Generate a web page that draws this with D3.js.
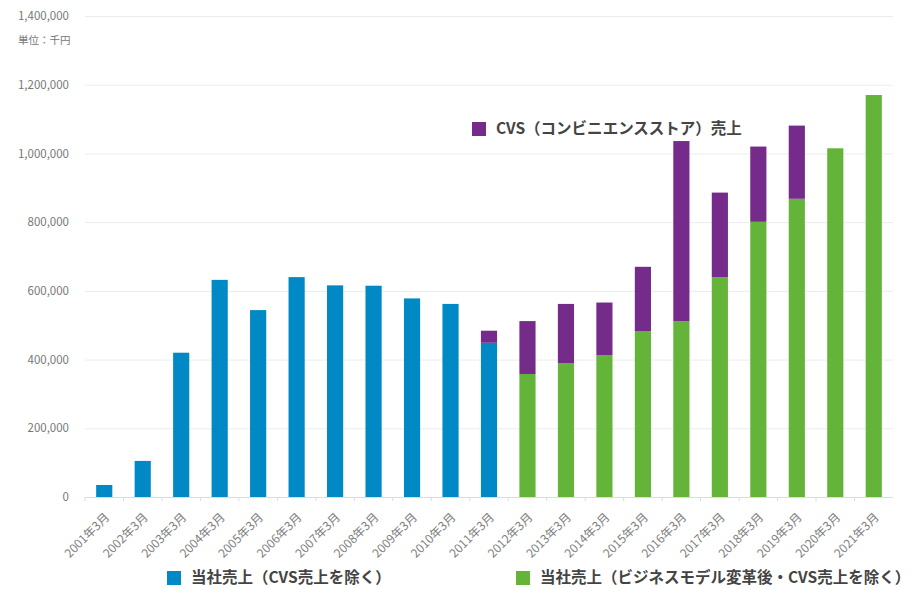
<!DOCTYPE html>
<html>
<head>
<meta charset="utf-8">
<script src="https://cdn.jsdelivr.net/npm/d3@7/dist/d3.min.js"></script>
<style>
  body { margin: 0; background: #fff; }
  text { font-family: "Noto Sans CJK JP", "Noto Sans", sans-serif; }
</style>
</head>
<body>
<div id="chart"></div>
<script>
// data (千円)
var years = ["2001年3月","2002年3月","2003年3月","2004年3月","2005年3月","2006年3月","2007年3月",
  "2008年3月","2009年3月","2010年3月","2011年3月","2012年3月","2013年3月","2014年3月",
  "2015年3月","2016年3月","2017年3月","2018年3月","2019年3月","2020年3月","2021年3月"];
var salesOld = [35000,105000,420000,632000,544000,640000,616000,615000,578000,562000,449000,0,0,0,0,0,0,0,0,0,0];
var salesNew = [0,0,0,0,0,0,0,0,0,0,0,358000,389000,413000,483000,512000,640000,801000,868000,1015000,1170000];
var salesCvs = [0,0,0,0,0,0,0,0,0,0,35000,154000,173000,153000,187000,524000,246000,219000,213000,0,0];
var yTicks = [0,200000,400000,600000,800000,1000000,1200000,1400000];

var keys = ["old","new","cvs"];
var colours = {old: "#0089c4", "new": "#64b43a", cvs: "#742b8a"};
var legendText = {
  old: "当社売上（CVS売上を除く）",
  "new": "当社売上（ビジネスモデル変革後・CVS売上を除く）",
  cvs: "CVS（コンビニエンスストア）売上"
};

var svgWidth = 910, svgHeight = 589;
var svg = d3.select("#chart").append("svg").attr("width", svgWidth).attr("height", svgHeight);

var x = d3.scaleBand().domain(years).range([85, 893]).paddingInner(0.58).paddingOuter(0.29);
var y = d3.scaleLinear().domain([0, 1400000]).range([497, 16]);

// grid
svg.append("g").selectAll("line").data(yTicks).join("line")
  .attr("x1", 85).attr("x2", 893)
  .attr("y1", function(d){ return y(d) + 0.5; }).attr("y2", function(d){ return y(d) + 0.5; })
  .attr("stroke", function(d){ return d === 0 ? "#d8dde3" : "#e9ecef"; });

// y labels
var yAxis = svg.append("g").attr("transform", "translate(72,0)")
  .call(d3.axisLeft(y).tickValues(yTicks).tickSize(0).tickFormat(d3.format(",")));
yAxis.select(".domain").remove();
yAxis.selectAll("text").attr("fill", "#777").attr("font-size", "11.5px").attr("dy", "0.32em");

// x axis
var xAxis = svg.append("g").attr("transform", "translate(0,497)")
  .call(d3.axisBottom(x).tickSize(0));
xAxis.select(".domain").remove();
xAxis.selectAll("text")
  .attr("fill", "#808080").attr("font-size", "12px")
  .attr("text-anchor", "end")
  .attr("x", 0).attr("y", 0).attr("dy", "0.35em")
  .attr("transform", "translate(3,18) rotate(-45)");
// small ticks between bands
svg.append("g").selectAll("line").data(years).join("line")
  .attr("x1", function(d){ return x(d) - x.step() * x.paddingInner() / 2; })
  .attr("x2", function(d){ return x(d) - x.step() * x.paddingInner() / 2; })
  .attr("y1", 497).attr("y2", 501).attr("stroke", "#d8dde3");

// stacked bars
var table = years.map(function(yr, i){ return {year: yr, old: salesOld[i], "new": salesNew[i], cvs: salesCvs[i]}; });
var series = d3.stack().keys(keys)(table);

svg.append("g").selectAll("g").data(series).join("g")
  .attr("fill", function(s){ return colours[s.key]; })
  .selectAll("rect").data(function(s){ return s; }).join("rect")
  .attr("x", function(d){ return x(d.data.year); })
  .attr("width", x.bandwidth())
  .attr("y", function(d){ return y(d[1]); })
  .attr("height", function(d){ return y(d[0]) - y(d[1]); });

// unit
svg.append("text").attr("x", 18).attr("y", 44)
  .attr("fill", "#777").attr("font-size", "10.5px").text("単位：千円");

// legends
var legendPos = [
  {key: "old", x: 167, y: 571},
  {key: "new", x: 516, y: 571},
  {key: "cvs", x: 472, y: 122}
];
var lg = svg.append("g").selectAll("g").data(legendPos).join("g")
  .attr("transform", function(d){ return "translate(" + d.x + "," + d.y + ")"; });
lg.append("rect").attr("width", 14).attr("height", 14)
  .attr("fill", function(d){ return colours[d.key]; });
lg.append("text").attr("x", 24).attr("y", 7).attr("dy", "0.35em")
  .attr("fill", "#444").attr("font-size", "15.5px").attr("font-weight", 700)
  .text(function(d){ return legendText[d.key]; });
</script>
</body>
</html>
